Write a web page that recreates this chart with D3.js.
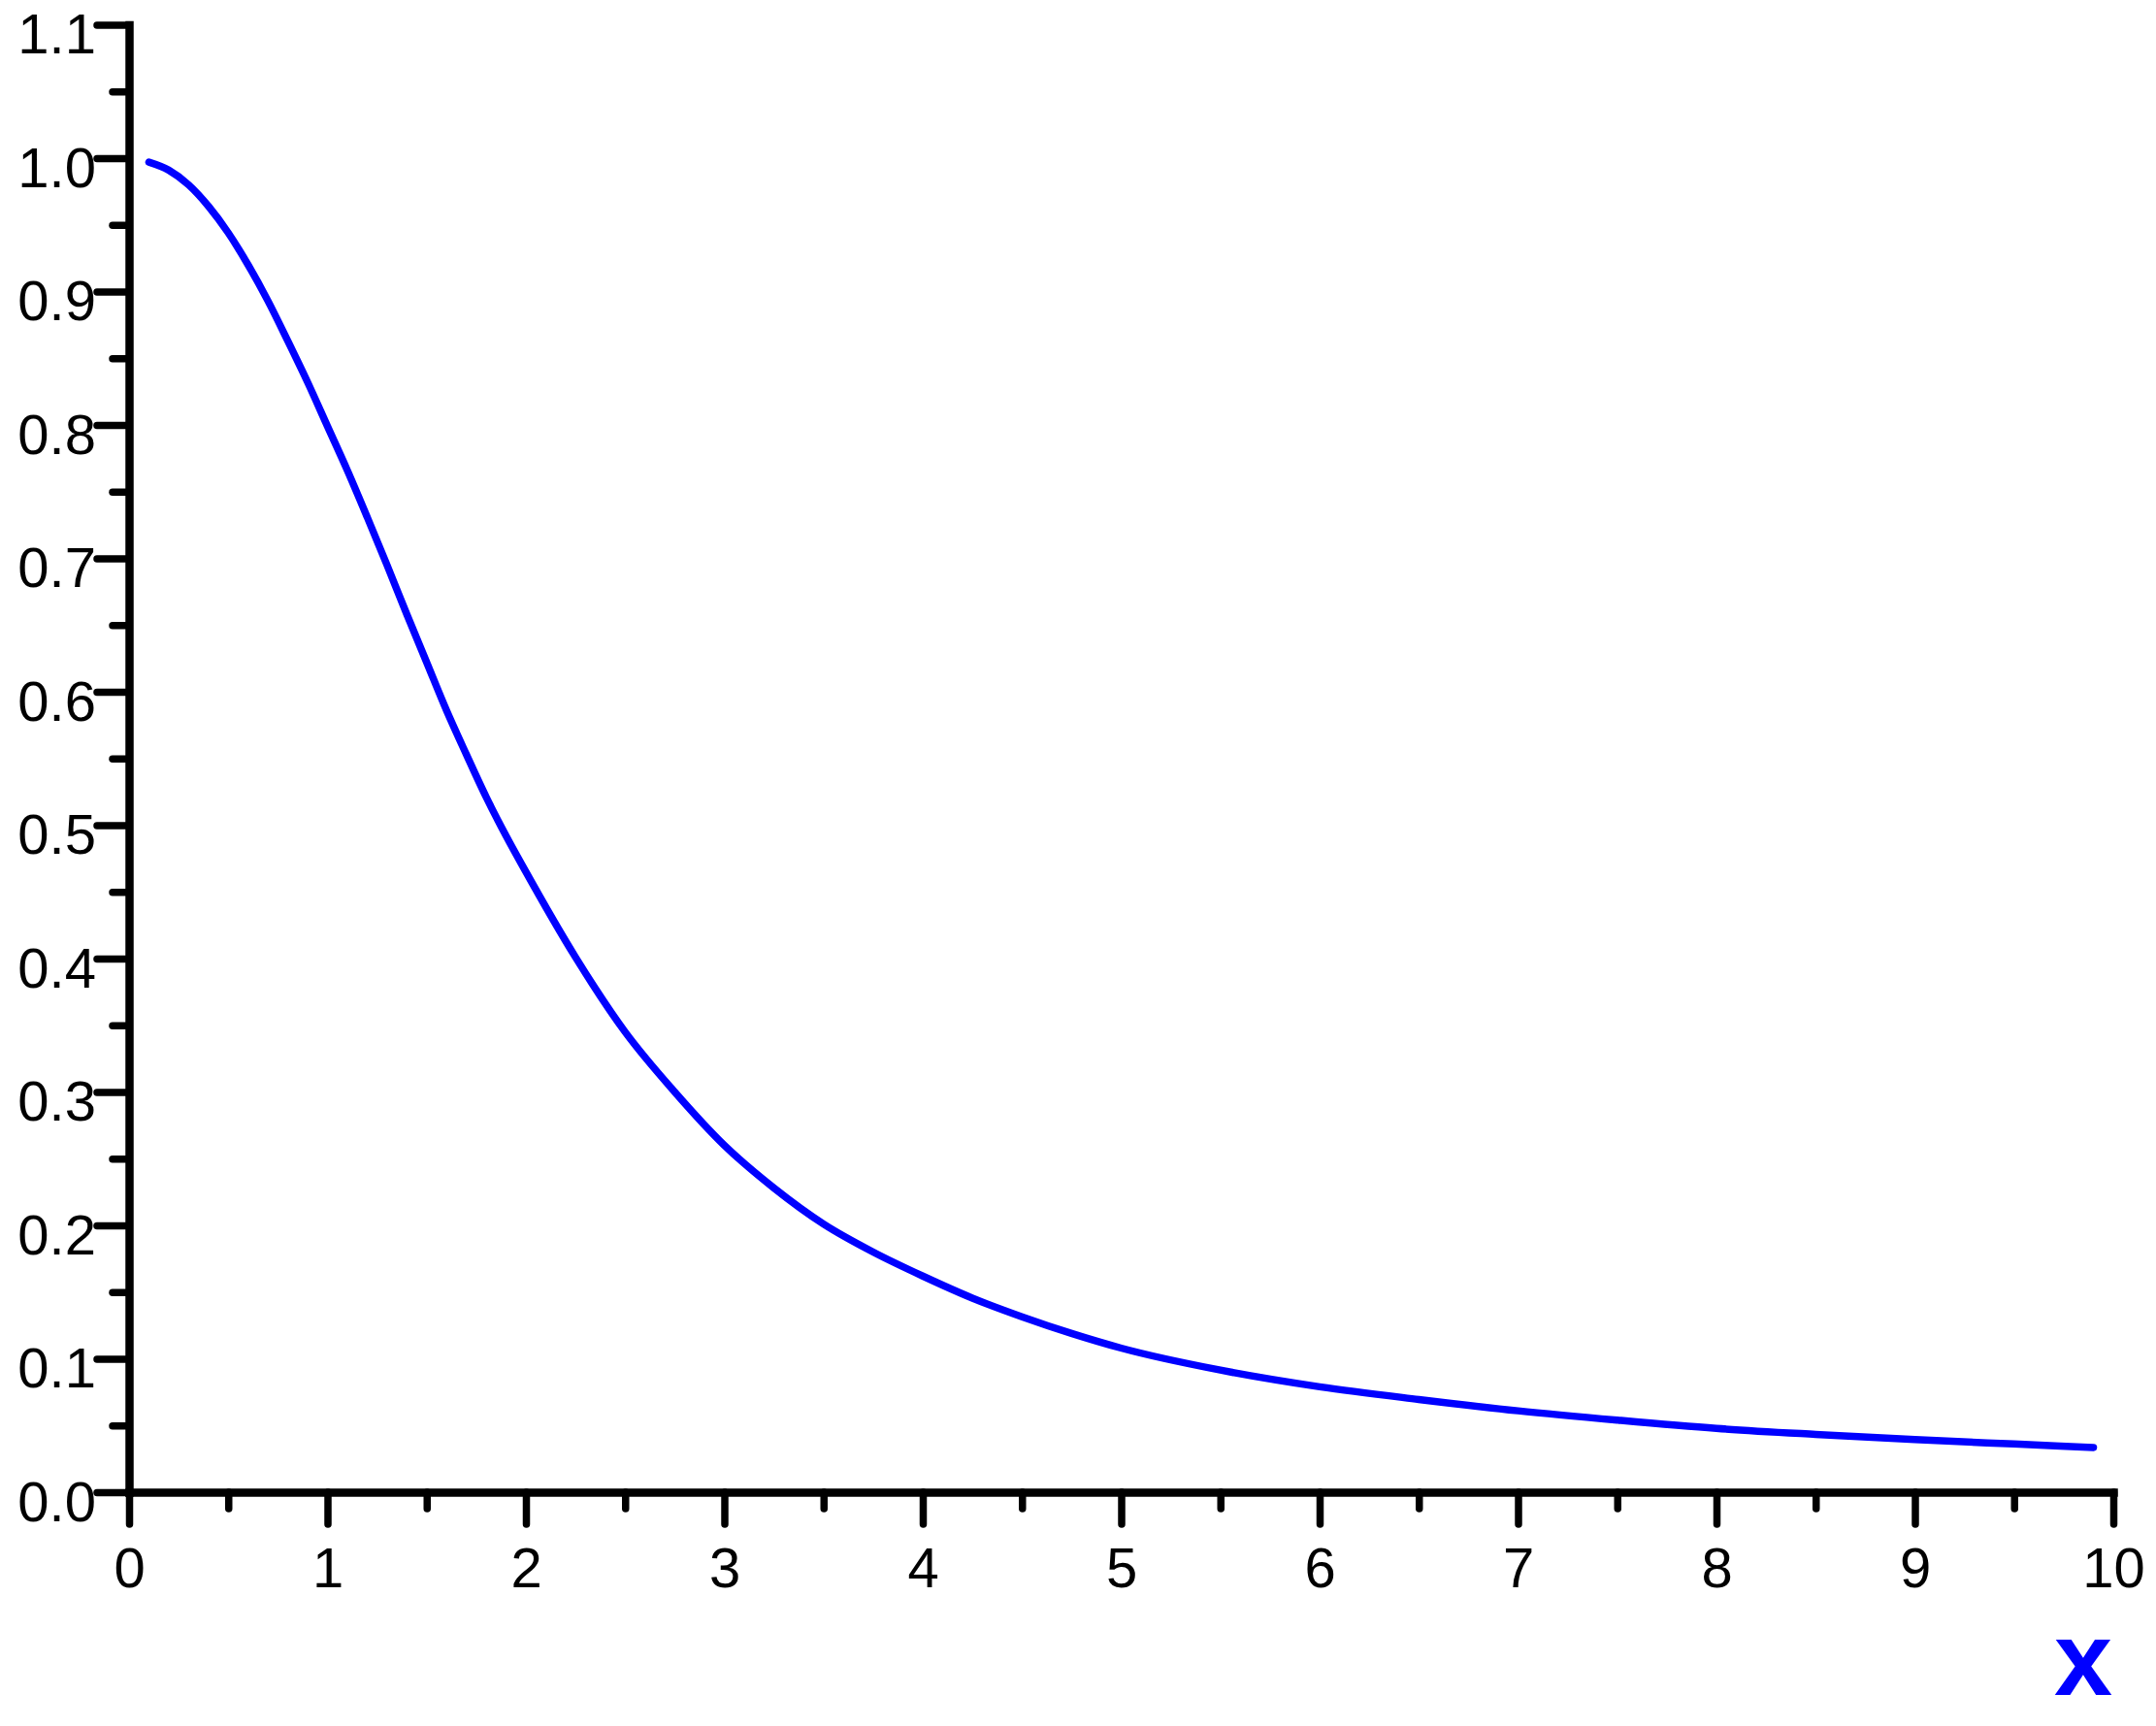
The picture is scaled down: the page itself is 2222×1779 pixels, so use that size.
<!DOCTYPE html>
<html>
<head>
<meta charset="utf-8">
<script src="https://cdn.jsdelivr.net/npm/d3@7"></script>
<style>
  html, body { margin: 0; padding: 0; background: #ffffff; }
  svg { display: block; }
</style>
</head>
<body>
<svg id="chart" width="2222" height="1779"></svg>
<script>
// ---- data ----
const xValues = [0.1, 0.2, 0.3, 0.4, 0.5, 0.6, 0.7, 0.8, 0.9, 1.0,
                 1.1, 1.2, 1.3, 1.4, 1.5, 1.6, 1.7, 1.8, 1.9, 2.0,
                 2.25, 2.5, 2.75, 3.0, 3.25, 3.5, 3.75, 4.0, 4.25, 4.5,
                 4.75, 5.0, 5.5, 6.0, 6.5, 7.0, 7.5, 8.0, 8.5, 9.0,
                 9.5, 9.9];
const yValues = [0.997, 0.991, 0.980, 0.964, 0.944, 0.920, 0.893, 0.863, 0.832, 0.799,
                 0.766, 0.731, 0.695, 0.658, 0.622, 0.586, 0.553, 0.521, 0.492, 0.465,
                 0.401, 0.345, 0.300, 0.260, 0.228, 0.201, 0.180, 0.162, 0.1455, 0.1315,
                 0.119, 0.108, 0.0915, 0.079, 0.0695, 0.061, 0.054, 0.0478, 0.0433, 0.0394,
                 0.0361, 0.0335];
const xMajorTicks = [0, 1, 2, 3, 4, 5, 6, 7, 8, 9, 10];
const xMinorTicks = [0.5, 1.5, 2.5, 3.5, 4.5, 5.5, 6.5, 7.5, 8.5, 9.5];
const yMajorTicks = [0, 0.1, 0.2, 0.3, 0.4, 0.5, 0.6, 0.7, 0.8, 0.9, 1.0, 1.1];
const yMinorTicks = [0.05, 0.15, 0.25, 0.35, 0.45, 0.55, 0.65, 0.75, 0.85, 0.95, 1.05];
const xLabel = "x";

// ---- layout ----
const svg = d3.select("#chart");
const x = d3.scaleLinear().domain([0, 10]).range([133, 2178]);
const y = d3.scaleLinear().domain([0, 1.1]).range([1538, 25.5]);

const axisColor = "#000000";
const majorLen = 33, minorLen = 17;
const fontFamily = "'Liberation Sans', Arial, Helvetica, sans-serif";

// X axis (major ticks with labels)
const gx = svg.append("g").attr("transform", `translate(0,${y(0)})`);
gx.call(d3.axisBottom(x).tickValues(xMajorTicks).tickSizeInner(majorLen).tickSizeOuter(0)
  .tickPadding(12).tickFormat(d3.format("d")));
const gxm = svg.append("g").attr("transform", `translate(0,${y(0)})`);
gxm.call(d3.axisBottom(x).tickValues(xMinorTicks).tickSizeInner(minorLen).tickSizeOuter(0).tickFormat(""));
gxm.select(".domain").remove();

// Y axis
const gy = svg.append("g").attr("transform", `translate(${x(0)},0)`);
gy.call(d3.axisLeft(y).tickValues(yMajorTicks).tickSizeInner(majorLen).tickSizeOuter(0)
  .tickPadding(0).tickFormat(d3.format(".1f")));
const gym = svg.append("g").attr("transform", `translate(${x(0)},0)`);
gym.call(d3.axisLeft(y).tickValues(yMinorTicks).tickSizeInner(minorLen).tickSizeOuter(0).tickFormat(""));
gym.select(".domain").remove();

// styling
svg.selectAll(".domain").attr("stroke", axisColor).attr("stroke-width", 8.5)
  .attr("stroke-linecap", "square");
svg.selectAll(".tick line").attr("stroke", axisColor).attr("stroke-width", 7.5)
  .attr("stroke-linecap", "round");
svg.selectAll(".tick text").attr("fill", "#000")
  .attr("font-family", fontFamily).attr("font-size", 58);

gx.selectAll(".tick text").attr("dy", null).attr("y", 98);
gy.selectAll(".tick text").attr("dy", null).attr("x", -34).attr("y", 29)
  .attr("text-anchor", "end");

// curve
const data = xValues.map((d, i) => ({ x: d, y: yValues[i] }));
const line = d3.line().x(d => x(d.x)).y(d => y(d.y)).curve(d3.curveMonotoneX);
svg.append("path").datum(data)
  .attr("d", line)
  .attr("fill", "none")
  .attr("stroke", "#0000ff")
  .attr("stroke-width", 7.5)
  .attr("stroke-linecap", "round")
  .attr("stroke-linejoin", "round");

// axis label
svg.append("text")
  .attr("x", 2177).attr("y", 1747)
  .attr("text-anchor", "end")
  .attr("font-family", fontFamily)
  .attr("font-weight", "bold")
  .attr("font-size", 108)
  .attr("fill", "#0000ff")
  .text(xLabel);
</script>
</body>
</html>
